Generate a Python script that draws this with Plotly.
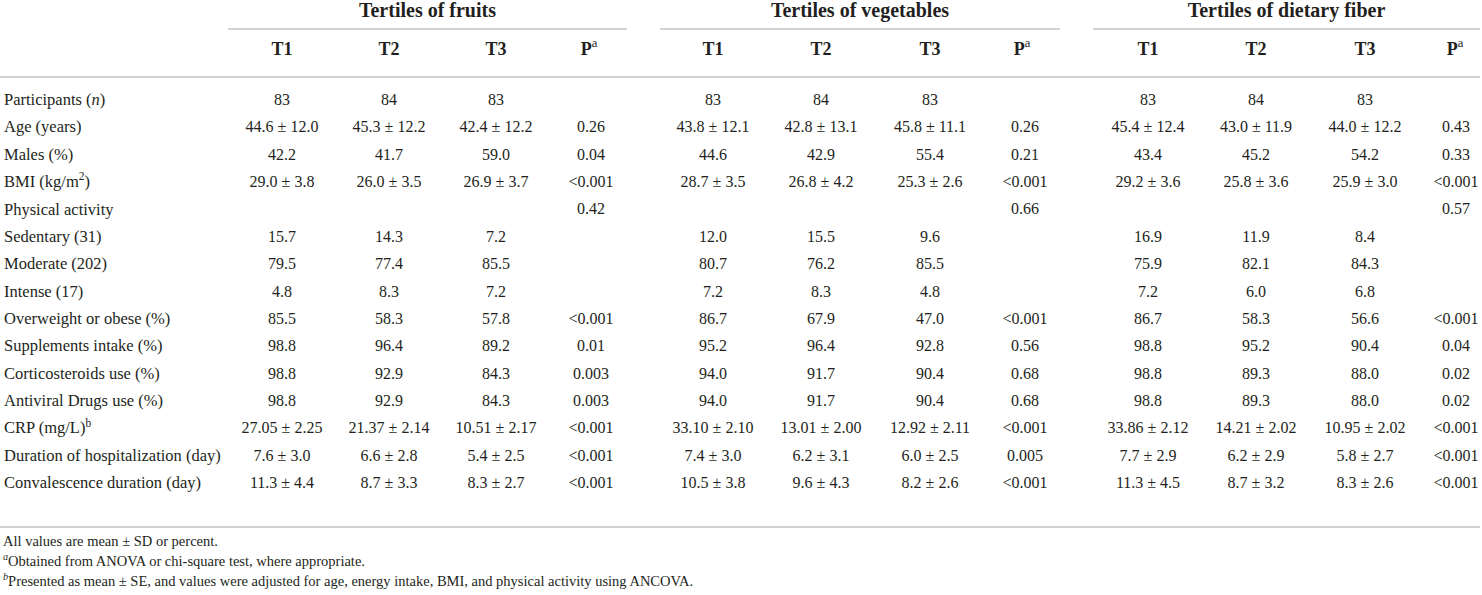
import plotly.graph_objects as go

# ---------------- data ----------------
group_titles = ["Tertiles of fruits", "Tertiles of vegetables", "Tertiles of dietary fiber"]
sub_headers = ["T1", "T2", "T3", "P"]

row_labels = [
    "Participants (<i>n</i>)", "Age (years)", "Males (%)", "BMI (kg/m<sup>2</sup>)",
    "Physical activity", "Sedentary (31)", "Moderate (202)", "Intense (17)",
    "Overweight or obese (%)", "Supplements intake (%)", "Corticosteroids use (%)",
    "Antiviral Drugs use (%)", "CRP (mg/L)<sup>b</sup>",
    "Duration of hospitalization (day)", "Convalescence duration (day)",
]

fruits_t1 = ["83", "44.6 ± 12.0", "42.2", "29.0 ± 3.8", "", "15.7", "79.5", "4.8", "85.5", "98.8", "98.8", "98.8", "27.05 ± 2.25", "7.6 ± 3.0", "11.3 ± 4.4"]
fruits_t2 = ["84", "45.3 ± 12.2", "41.7", "26.0 ± 3.5", "", "14.3", "77.4", "8.3", "58.3", "96.4", "92.9", "92.9", "21.37 ± 2.14", "6.6 ± 2.8", "8.7 ± 3.3"]
fruits_t3 = ["83", "42.4 ± 12.2", "59.0", "26.9 ± 3.7", "", "7.2", "85.5", "7.2", "57.8", "89.2", "84.3", "84.3", "10.51 ± 2.17", "5.4 ± 2.5", "8.3 ± 2.7"]
fruits_p = ["", "0.26", "0.04", "<0.001", "0.42", "", "", "", "<0.001", "0.01", "0.003", "0.003", "<0.001", "<0.001", "<0.001"]

veg_t1 = ["83", "43.8 ± 12.1", "44.6", "28.7 ± 3.5", "", "12.0", "80.7", "7.2", "86.7", "95.2", "94.0", "94.0", "33.10 ± 2.10", "7.4 ± 3.0", "10.5 ± 3.8"]
veg_t2 = ["84", "42.8 ± 13.1", "42.9", "26.8 ± 4.2", "", "15.5", "76.2", "8.3", "67.9", "96.4", "91.7", "91.7", "13.01 ± 2.00", "6.2 ± 3.1", "9.6 ± 4.3"]
veg_t3 = ["83", "45.8 ± 11.1", "55.4", "25.3 ± 2.6", "", "9.6", "85.5", "4.8", "47.0", "92.8", "90.4", "90.4", "12.92 ± 2.11", "6.0 ± 2.5", "8.2 ± 2.6"]
veg_p = ["", "0.26", "0.21", "<0.001", "0.66", "", "", "", "<0.001", "0.56", "0.68", "0.68", "<0.001", "0.005", "<0.001"]

fiber_t1 = ["83", "45.4 ± 12.4", "43.4", "29.2 ± 3.6", "", "16.9", "75.9", "7.2", "86.7", "98.8", "98.8", "98.8", "33.86 ± 2.12", "7.7 ± 2.9", "11.3 ± 4.5"]
fiber_t2 = ["84", "43.0 ± 11.9", "45.2", "25.8 ± 3.6", "", "11.9", "82.1", "6.0", "58.3", "95.2", "89.3", "89.3", "14.21 ± 2.02", "6.2 ± 2.9", "8.7 ± 3.2"]
fiber_t3 = ["83", "44.0 ± 12.2", "54.2", "25.9 ± 3.0", "", "8.4", "84.3", "6.8", "56.6", "90.4", "88.0", "88.0", "10.95 ± 2.02", "5.8 ± 2.7", "8.3 ± 2.6"]
fiber_p = ["", "0.43", "0.33", "<0.001", "0.57", "", "", "", "<0.001", "0.04", "0.02", "0.02", "<0.001", "<0.001", "<0.001"]

footnotes = [
    "All values are mean ± SD or percent.",
    "<sup><i>a</i></sup>Obtained from ANOVA or chi-square test, where appropriate.",
    "<sup><i>b</i></sup>Presented as mean ± SE, and values were adjusted for age, energy intake, BMI, and physical activity using ANCOVA.",
]

# ---------------- layout constants ----------------
W, H = 1482, 595
FONT = "Liberation Serif"
TXT = "#231f20"
LINE = "#d2d2d2"

group_cols = [
    [fruits_t1, fruits_t2, fruits_t3, fruits_p],
    [veg_t1, veg_t2, veg_t3, veg_p],
    [fiber_t1, fiber_t2, fiber_t3, fiber_p],
]
col_x = [[282, 389, 496, 591], [713, 821, 930, 1025], [1148, 1256, 1365, 1456]]
header_x = [[282, 389, 496, 589], [713, 821, 930, 1022], [1148, 1256, 1365, 1455]]
group_span = [(228, 627), (660, 1060), (1093, 1480)]

y_group = 12
y_group_line = 29
y_head = 50
y_head_line = 77
y_row0 = 101
row_step = 27.36
y_bottom_line = 527
y_foot0 = 542
foot_step = 20

row_y = [y_row0 + i * row_step for i in range(len(row_labels))]

fig = go.Figure()


def text_trace(xs, ys, texts, size, pos="middle center"):
    keep = [(x, y, t) for x, y, t in zip(xs, ys, texts) if t]
    fig.add_trace(go.Scatter(
        x=[k[0] for k in keep], y=[k[1] for k in keep], text=[k[2] for k in keep],
        mode="text", textposition=pos, cliponaxis=False,
        textfont=dict(family=FONT, size=size, color=TXT),
        hoverinfo="skip", showlegend=False))


# row labels
text_trace([4] * len(row_labels), row_y, row_labels, 16.5, "middle right")

for g, cols in enumerate(group_cols):
    for c, vals in enumerate(cols):
        text_trace([col_x[g][c]] * len(vals), row_y,
                   [v.replace("<", "&lt;") for v in vals], 16)
    # group title
    text_trace([(group_span[g][0] + group_span[g][1]) / 2], [y_group],
               ["<b>" + group_titles[g] + "</b>"], 20)
    # sub headers
    text_trace(header_x[g], [y_head] * 4,
               ["<b>" + h + "</b>" + ("<sup>a</sup>" if h == "P" else "") for h in sub_headers], 18)
    fig.add_shape(type="line", x0=group_span[g][0], x1=group_span[g][1],
                  y0=y_group_line, y1=y_group_line, xref="x", yref="y",
                  line=dict(color=LINE, width=2))

# footnotes
text_trace([3] * len(footnotes), [y_foot0 + i * foot_step for i in range(len(footnotes))],
           footnotes, 14.5, "middle right")

for yl in (y_head_line, y_bottom_line):
    fig.add_shape(type="line", x0=0, x1=1480, y0=yl, y1=yl, xref="x", yref="y",
                  line=dict(color=LINE, width=2))

fig.update_layout(
    width=W, height=H, margin=dict(l=0, r=0, t=0, b=0),
    paper_bgcolor="white", plot_bgcolor="white",
    xaxis=dict(range=[0, W], visible=False, fixedrange=True),
    yaxis=dict(range=[H, 0], visible=False, fixedrange=True),
)

fig.write_html(
    "out.html", config={"displayModeBar": False},
    post_script="document.body.style.margin='0px';document.body.style.overflow='hidden';",
)
